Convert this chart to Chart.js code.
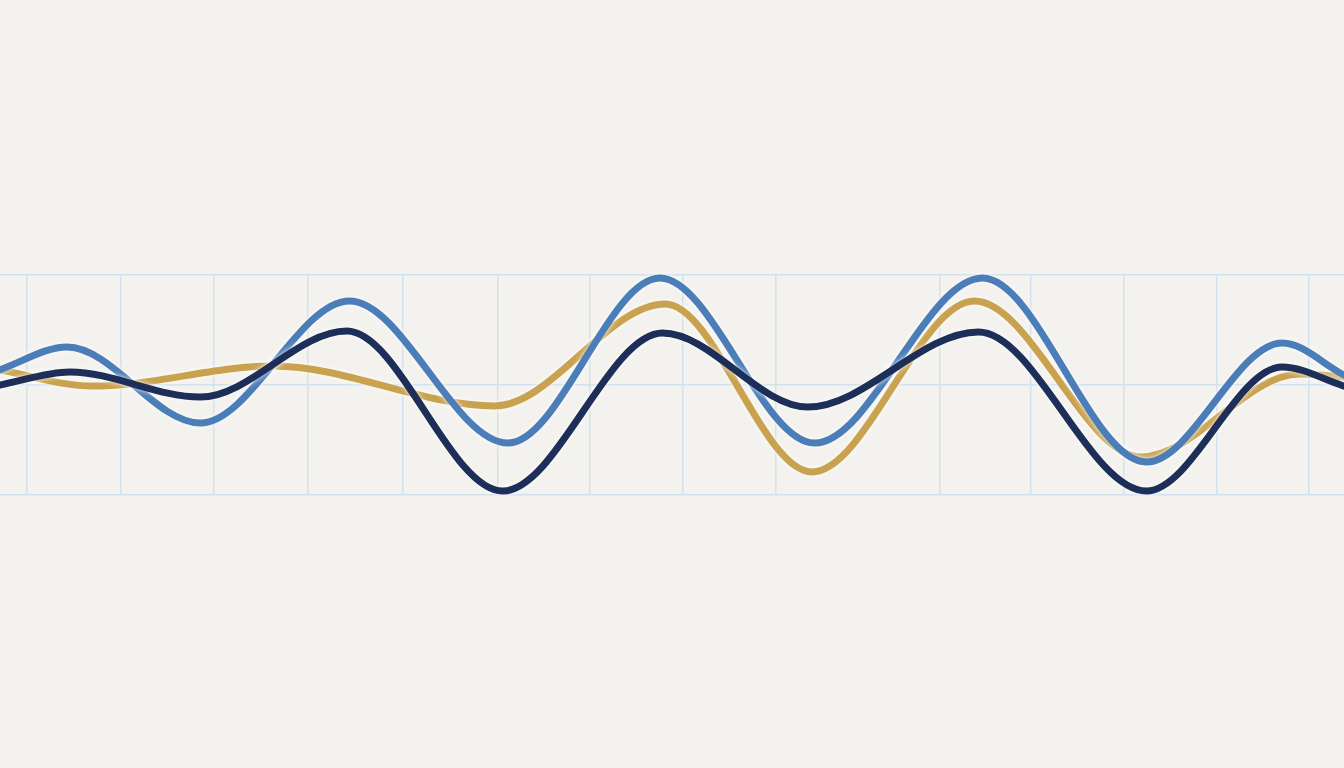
<!DOCTYPE html>
<html>
<head>
<meta charset="utf-8">
<script src="https://cdn.jsdelivr.net/npm/chart.js@4.4.1/dist/chart.umd.min.js"></script>
<style>
  html, body { margin: 0; padding: 0; background: #f3f2ee; }
  #wrap { width: 1344px; height: 768px; }
</style>
</head>
<body>
<div id="wrap"><canvas id="myChart"></canvas></div>
<script>
// positions along the track (0-100) and readings (0-100)
var blueX = [0, 5.0, 14.9, 26.0, 37.8, 49.1, 60.6, 73.1, 85.3, 95.4, 100];
var blueY = [57, 67.3, 32.7, 88.2, 23.6, 98.6, 23.6, 98.6, 15.0, 69.1, 54.5];

var navyX = [0, 5.2, 14.9, 25.8, 37.4, 49.3, 60.1, 72.8, 85.3, 95.4, 100];
var navyY = [50, 55.9, 44.5, 74.5, 1.8, 73.6, 40, 74.1, 1.8, 58.2, 49.5];

var goldX = [0, 6.9, 20.3, 36.8, 49.5, 60.4, 72.5, 84.9, 96.7, 100];
var goldY = [56.8, 49.5, 58.6, 40.5, 86.8, 10.5, 88.2, 17.3, 55, 53.6];

var gridTicks = [2.0, 9.0, 15.9, 22.9, 30.0, 37.0, 43.9, 50.8, 57.7, 69.9, 76.7, 83.6, 90.5, 97.4];

function pts(xs, ys) {
    return xs.map(function (x, i) { return { x: x, y: ys[i] }; });
}

// soft white halo round each line
var halo = {
    id: 'halo',
    beforeDatasetDraw: function (chart) {
        chart.ctx.save();
        chart.ctx.shadowColor = 'rgba(255,255,255,0.95)';
        chart.ctx.shadowBlur = 5;
    },
    afterDatasetDraw: function (chart) {
        chart.ctx.restore();
    }
};

var ctx = document.getElementById('myChart').getContext('2d');

var myChart = new Chart(ctx, {
    type: 'line',
    data: {
        datasets: [
            { data: pts(navyX, navyY), borderColor: '#1d2f58' },
            { data: pts(blueX, blueY), borderColor: '#4b7db8' },
            { data: pts(goldX, goldY), borderColor: '#c9a24f' }
        ]
    },
    options: {
        responsive: true,
        maintainAspectRatio: false,
        animation: false,
        layout: { padding: { top: 275, bottom: 273, left: 0, right: 0 } },
        elements: {
            line: { borderWidth: 7, cubicInterpolationMode: 'monotone', borderCapStyle: 'round' },
            point: { radius: 0 }
        },
        datasets: { line: { clip: false } },
        plugins: { legend: { display: false }, tooltip: { enabled: false } },
        scales: {
            x: {
                type: 'linear',
                min: 0,
                max: 100,
                afterBuildTicks: function (axis) {
                    axis.ticks = gridTicks.map(function (v) { return { value: v }; });
                },
                ticks: { display: false },
                border: { display: false },
                grid: { color: '#d2e1ee', lineWidth: 1.5, drawTicks: false }
            },
            y: {
                min: 0,
                max: 100,
                ticks: { display: false, stepSize: 50 },
                border: { display: false },
                grid: { color: '#d2e1ee', lineWidth: 1.5, drawTicks: false }
            }
        }
    },
    plugins: [halo]
});
</script>
</body>
</html>
